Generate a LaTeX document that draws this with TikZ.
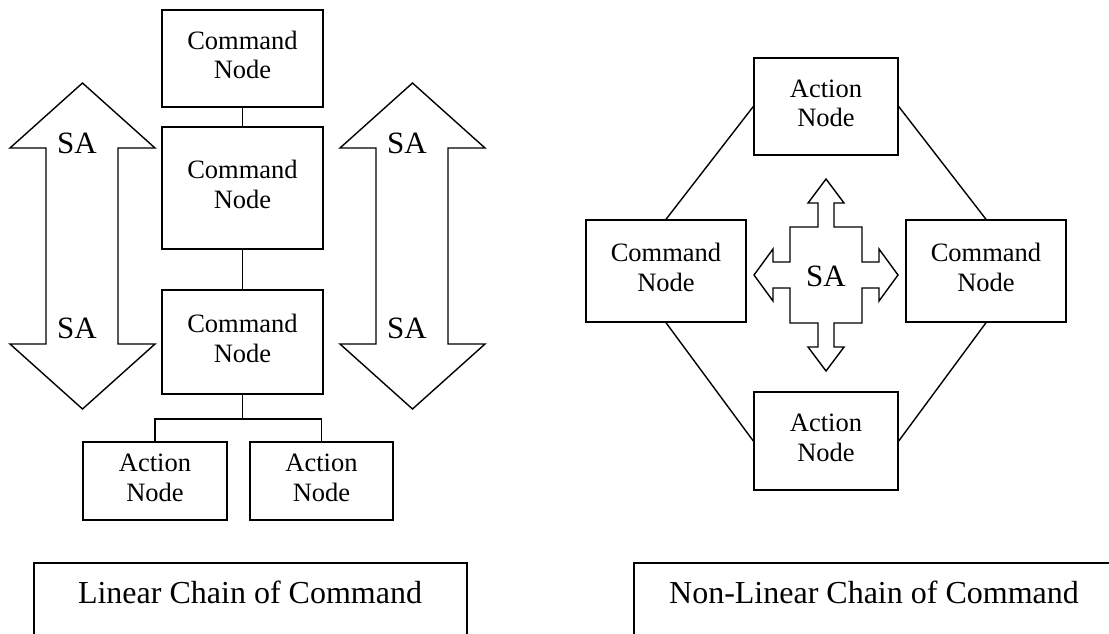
\documentclass[tikz,border=0pt]{standalone}
\usepackage{fontspec}
\setmainfont{Liberation Serif}
\begin{document}
\begin{tikzpicture}[x=1pt,y=-1pt,line width=1.4pt,
  box/.style={draw,line width=1.4pt,inner sep=0pt,align=center,text depth=7pt,font=\fontsize{26.5}{29.5}\selectfont},
  satext/.style={font=\fontsize{31}{31}\selectfont,inner sep=0pt,anchor=base},
  lbl/.style={font=\fontsize{32}{32}\selectfont,inner sep=0pt,anchor=base},
  link/.style={draw,line width=1.4pt},
  bigarrow/.style={draw,line width=1.4pt,line join=miter,fill=white}]
\useasboundingbox (0,0) rectangle (1109,633);
% ---- left: linear chain ----
\node[box,minimum width=161,minimum height=97] (c1) at (242.5,58.5) {Command\\Node};
\node[box,minimum width=161,minimum height=122] (c2) at (242.5,188) {Command\\Node};
\node[box,minimum width=161,minimum height=104] (c3) at (242.5,342) {Command\\Node};
\node[box,minimum width=144,minimum height=78] (a1) at (155,481) {Action\\Node};
\node[box,minimum width=143,minimum height=78] (a2) at (321.5,481) {Action\\Node};
\coordinate (j) at (242.5,419);
\draw[link] (c1.south) -- (c2.north);
\draw[link] (c2.south) -- (c3.north);
\draw[link] (c3.south) -- (j);
\draw[link] (a1.north) |- (j) -| (a2.north);
% SA double arrows
\draw[bigarrow] (82.5,83) -- (155,148) -- (118,148) -- (118,344) -- (155,344) -- (82.5,409)
  -- (10,344) -- (46,344) -- (46,148) -- (10,148) -- cycle;
\node[satext] (sa1) at (77,153) {SA};
\node[satext] (sa2) at (77,338) {SA};
\draw[bigarrow] (412.5,83) -- (485,148) -- (448,148) -- (448,344) -- (485,344) -- (412.5,409)
  -- (340,344) -- (376,344) -- (376,148) -- (340,148) -- cycle;
\node[satext] (sa3) at (407,153) {SA};
\node[satext] (sa4) at (407,338) {SA};
% ---- right: non-linear ----
\node[box,minimum width=144,minimum height=97] (ta) at (826,106.5) {Action\\Node};
\node[box,minimum width=160,minimum height=102] (lc) at (666,271) {Command\\Node};
\node[box,minimum width=160,minimum height=102] (rc) at (986,271) {Command\\Node};
\node[box,minimum width=144,minimum height=98] (ba) at (826,441) {Action\\Node};
\draw[link] (lc.north) -- (ta.west);
\draw[link] (rc.north) -- (ta.east);
\draw[link] (lc.south) -- (ba.west);
\draw[link] (rc.south) -- (ba.east);
\begin{scope}[shift={(826,275)}]
\draw[bigarrow] (0,-96) -- (18,-72) -- (8,-72) -- (8,-48) -- (36,-48) -- (36,-13) -- (53,-13) -- (53,-26)
  -- (72,0) -- (53,26) -- (53,13) -- (36,13) -- (36,48) -- (8,48) -- (8,72) -- (18,72) -- (0,96)
  -- (-18,72) -- (-8,72) -- (-8,48) -- (-36,48) -- (-36,13) -- (-53,13) -- (-53,26) -- (-72,0)
  -- (-53,-26) -- (-53,-13) -- (-36,-13) -- (-36,-48) -- (-8,-48) -- (-8,-72) -- (-18,-72) -- cycle;
\node[satext] (sa5) at (0,11) {SA};
\end{scope}
% ---- bottom labels ----
\node[lbl] (l1) at (250,603) {Linear Chain of Command};
\node[lbl] (l2) at (874,603) {Non-Linear Chain of Command};
\draw[link] (34,645) |- (467,563) -- (467,645);
\draw[link] (634,645) |- (1120,563) -- (1120,645);
\end{tikzpicture}
\end{document}
